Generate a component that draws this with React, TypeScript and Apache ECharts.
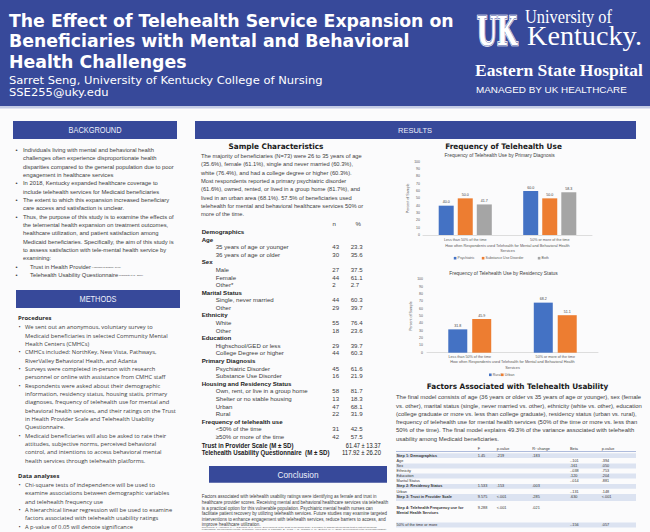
import React, { useEffect, useRef } from 'react';
import * as echarts from 'echarts';

// ---------------- data ----------------
const frequencyCategories = ['Less than 50% of the time', '50% or more of the time'];
const diagnosisSeries = ['Psychiatric', 'Substance Use Disorder', 'Both'];
const psychiatricPct = [40.0, 60.0];
const substanceUsePct = [50.0, 50.0];
const bothPct = [41.7, 58.3];
const residencySeries = ['Rural', 'Urban'];
const ruralPct = [31.8, 68.2];
const urbanPct = [45.9, 51.1];
const percentMin = 0;
const percentMax = 100;
const percentStep = 10;

const sampleLabels = [
  'Demographics', 'Age', '35 years of age or younger', '36 years of age or older',
  'Sex', 'Male', 'Female', 'Other*',
  'Marital Status', 'Single, never married', 'Other',
  'Ethnicity', 'White', 'Other',
  'Education', 'Highschool/GED or less', 'College Degree or higher',
  'Primary Diagnosis', 'Psychiatric Disorder', 'Substance Use Disorder',
  'Housing and Residency Status', 'Own, rent, or live in a group home', 'Shelter or no stable housing', 'Urban', 'Rural',
  'Frequency of telehealth use', '<50% of the time', '\u226550% or more of the time',
];
const sampleN = [null, null, 43, 30, null, 27, 44, 2, null, 44, 29, null, 55, 18, null, 29, 44, null, 45, 16, null, 58, 13, 47, 22, null, 31, 42];
const samplePct = [null, null, 23.3, 35.6, null, 37.5, 61.1, 2.7, null, 60.3, 39.7, null, 76.4, 23.6, null, 39.7, 60.3, null, 61.6, 21.9, null, 81.7, 18.3, 68.1, 31.9, null, 42.5, 57.5];
const scaleLabels = ['Trust in Provider Scale (M \u00b1 SD)', 'Telehealth Usability Questionnaire  (M \u00b1 SD)'];
const scaleMeans = [61.47, 117.92];
const scaleSDs = [13.37, 26.2];

const factorHeaders = ['F', 'p-value', 'R\u00b2 change', 'Beta', 'p-value'];
const factorLabels = [
  'Step 1: Demographics', 'Age', 'Sex', 'Ethnicity', 'Education', 'Marital Status',
  'Step 2: Residency Status', 'Urban', 'Step 3: Trust in Provider Scale',
  'Step 4: Telehealth Frequency use for\nMental Health Services', '50% of the time or more',
];
const factorF = ['1.45', '', '', '', '', '', '1.533', '', '9.575', '9.288', ''];
const factorP = ['.219', '', '', '', '', '', '.153', '', '<.001', '<.001', ''];
const factorR2 = ['.183', '', '', '', '', '', '.003', '', '.285', '.021', ''];
const factorBeta = ['', '-.101', '.161', '-.038', '.120', '-.014', '', '-.131', '.630', '', '-.156'];
const factorBetaP = ['', '.394', '.050', '.753', '.204', '.881', '', '.148', '<.001', '', '.057'];

const titleLines = [
  'The Effect of Telehealth Service Expansion on',
  'Beneficiaries with Mental and Behavioral',
  'Health Challenges',
];
const backgroundLines = [
  '\u2022 Individuals living with mental and behavioral health',
  'challenges often experience disproportionate health',
  'disparities compared to the general population due to poor',
  'engagement in healthcare services',
  '\u2022 In 2018, Kentucky expanded healthcare coverage to',
  'include telehealth services for Medicaid beneficiaries',
  '\u2022 The extent to which this expansion increased beneficiary',
  'care access and satisfaction is unclear.',
  '\u2022 Thus, the purpose of this study is to examine the effects of',
  'the telemental health expansion on treatment outcomes,',
  'healthcare utilization, and patient satisfaction among',
  'Medicaid beneficiaries. Specifically, the aim of this study is',
  'to assess satisfaction with tele-mental health service by',
  'examining:',
  '\u25e6 Trust in Health Provider',
  '\u25e6 Telehealth Usability Questionnaire',
];
const backgroundCitations = ['(Anderson & Dedrick, 1990)', '(Parmanto et al., 2016)'];
const procedureLines = [
  '\u2022 We sent out an anonymous, voluntary survey to',
  'Medicaid beneficiaries in selected Community Mental',
  'Health Centers (CMHCs)',
  '\u2022 CMHCs included: NorthKey, New Vista, Pathways,',
  'RiverValley Behavioral Health, and Adanta',
  '\u2022 Surveys were completed in-person with research',
  'personnel or online with assistance from CMHC staff',
  '\u2022 Respondents were asked about their demographic',
  'information, residency status, housing statis, primary',
  'diagnoses, frequency of telehealth use for mental and',
  'behavioral health services, and their ratings on the Trust',
  'in Health Provider Scale and Telehealth Usability',
  'Questionnaire.',
  '\u2022 Medicaid beneficiaries will also be asked to rate their',
  'attitudes, subjective norms, perceived behavioral',
  'control, and intentions to access behavioral mental',
  'health services through telehealth platforms.',
];
const analysisLines = [
  '\u2022 Chi-square tests of independence will be used to',
  'examine associations between demographic variables',
  'and telehealth frequency use',
  '\u2022 A hierarchical linear regression will be used to examine',
  'factors associated with telehealth usability ratings',
  '\u2022 A p-value of 0.05 will denote significance',
];
const sampleParagraph = [
  'The majority of beneficiaries (N=73) were 26 to 35 years of age',
  '(35.6%), female (61.1%), single and never married (60.3%),',
  'white (76.4%), and had a college degree or higher (60.3%).',
  'Most respondents reported a primary psychiatric disorder',
  '(61.6%), owned, rented, or lived in a group home (81.7%), and',
  'lived in an urban area (68.1%). 57.5% of beneficiaries used',
  'telehealth for mental and behavioral healthcare services 50% or',
  'more of the time.',
];
const factorParagraph = [
  'The final model consists of age (36 years or older vs 35 years of age or younger), sex (female',
  'vs. other), marital status (single, never married vs. other), ethnicity (white vs. other), education',
  '(college graduate or more vs. less than college graduate), residency status (urban vs. rural),',
  'frequency of telehealth use for mental health services (50% of the time or more vs. less than',
  '50% of the time). The final model explains 49.3% of the variance associated with telehealth',
  'usability among Medicaid beneficiaries.',
];
const conclusionLines = [
  'Factors associated with telehealth usability ratings were identifying as female and trust in',
  'healthcare provider scores. Receiving mental and behavioral healthcare services via telehealth',
  'is a practical option for this vulnerable population. Psychiatric mental health nurses can',
  'facilitate patient recovery by utilizing telehealth services. Future studies may examine targeted',
  'interventions to enhance engagement with telehealth services, reduce barriers to access, and',
  'improve healthcare utilization.',
];
const referenceLines = [
  'References: 1. Anderson, L. A., & Dedrick, R. F. (1990). Development of the Trust in Physician scale: a measure to assess interpersonal trust in patient-physician',
  'relationships. Psychological reports, 67(3 suppl), 1091-1100. 2. Parmanto, B., Lewis, A. N., Graham, K. M., Bertolet, M. H. (2016). Development of the Telehealth Usability',
  'Questionnaire (TUQ). Int J Telerehabil, 8(1), 3-10. doi: 10.5195/IJT.2016.6196.',
];

// ---------------- styling helpers ----------------
const BLUE = '#37499a';
const BODY = '#3c3c3c';
const SANS = 'Liberation Sans';
const OPEN = 'Open Sans';
const DJ = 'DejaVu Sans';
const SERIF = 'Liberation Serif';
const AXIS = '#595959';

let measureCtx: CanvasRenderingContext2D | null = null;
function textW(s: string, size: number, family: string, weight = 'normal') {
  if (!measureCtx) measureCtx = document.createElement('canvas').getContext('2d');
  if (!measureCtx) return s.length * size * 0.5;
  measureCtx.font = `${weight} 100px "${family}"`;
  return (measureCtx.measureText(s).width * size) / 100;
}
function fit(ref: string, width: number, size: number, family: string, weight = 'normal') {
  return width / textW(ref, size, family, weight);
}
function T(text: string, x: number, y: number, size: number, o: any = {}) {
  return {
    type: 'text', x, y, scaleX: o.sx ?? 1, silent: true, z: 10,
    style: {
      text, fontSize: size, fontFamily: o.family ?? SANS, fontWeight: o.weight ?? 'normal',
      fill: o.color ?? BODY, align: o.align ?? 'left', verticalAlign: 'middle',
      stroke: o.stroke, lineWidth: o.lineWidth ?? 0,
    },
  };
}
function R(x: number, y: number, w: number, h: number, fill: string) {
  return { type: 'rect', silent: true, z: 1, shape: { x, y, width: w, height: h }, style: { fill } };
}
function bulletBlock(els: any[], lines: string[], o: any) {
  lines.forEach((ln, k) => {
    const y = o.y0 + k * o.dy;
    if (ln.startsWith('\u2022 ')) {
      els.push(T('\u2022', o.bx, y, o.size, { family: o.family, sx: o.sx }));
      els.push(T(ln.slice(2), o.tx, y, o.size, { family: o.family, sx: o.sx }));
    } else if (ln.startsWith('\u25e6 ')) {
      els.push(T('\u2022', o.bx, y, o.size, { family: o.family, sx: o.sx }));
      els.push(T(ln.slice(2), o.subTx, y, o.size, { family: o.family, sx: o.sx }));
    } else {
      els.push(T(ln, o.tx, y, o.size, { family: o.family, sx: o.sx }));
    }
  });
}

function buildGraphics() {
  const els: any[] = [];
  // header
  els.push(R(0, 0, 650, 106, BLUE));
  els.push(R(0, 106, 650, 2.5, '#c3cbe5'));
  const tSize = 18.5;
  const tSx = fit(titleLines[0], 445, tSize, DJ, 'bold');
  titleLines.forEach((l, i) => els.push(T(l, 9, 20.4 + i * 20.3, tSize, { family: DJ, weight: 'bold', color: '#ffffff', sx: tSx })));
  const aSx = fit('Sarret Seng, University of Kentucky College of Nursing', 314, 10, DJ);
  els.push(T('Sarret Seng, University of Kentucky College of Nursing', 9, 80.8, 10, { family: DJ, color: '#ffffff', sx: aSx }));
  els.push(T('SSE255@uky.edu', 9, 92.8, 10, { family: DJ, color: '#ffffff', sx: aSx }));
  // logo
  const ukSx = fit('UK', 40, 40, 'DejaVu Serif', 'bold');
  els.push(T('UK', 477, 31, 40, { family: 'DejaVu Serif', weight: 'bold', color: '#ffffff', stroke: '#ffffff', lineWidth: 2.6, sx: ukSx }));
  els.push(T('UK', 477, 31, 40, { family: 'DejaVu Serif', weight: 'bold', color: '#ffffff', stroke: BLUE, lineWidth: 0.9, sx: ukSx }));
  els.push(T('University of', 525, 17.6, 18, { family: SERIF, color: '#ffffff', sx: fit('University of', 87, 18, SERIF) }));
  els.push(T('Kentucky.', 527, 36, 28, { family: SERIF, color: '#ffffff', sx: fit('Kentucky.', 115, 28, SERIF) }));
  els.push(T('Eastern State Hospital', 475, 70.5, 16, { family: SERIF, weight: 'bold', color: '#ffffff', sx: fit('Eastern State Hospital', 168, 16, SERIF, 'bold') }));
  els.push(T('MANAGED BY UK HEALTHCARE', 476, 90.2, 8.8, { color: '#ffffff', sx: fit('MANAGED BY UK HEALTHCARE', 151, 8.8, SANS) }));

  // section header boxes
  const hdr = (label: string, x: number, y: number, w: number, h: number, cx: number, tw: number, size: number) => {
    els.push(R(x, y, w, h, BLUE));
    els.push(T(label, cx, y + h / 2 + 0.3, size, { color: '#eef0fb', align: 'center', sx: fit(label, tw, size, SANS) }));
  };
  hdr('BACKGROUND', 13, 121, 164, 18, 95, 53, 8.2);
  hdr('METHODS', 16, 290, 164, 18, 98, 37, 8.2);
  hdr('RESULTS', 195, 121, 441, 18, 415, 34, 7.8);
  hdr('Conclusion', 209, 466, 178, 16.7, 298, 41, 9.4);

  // background
  const bgSize = 5.9;
  const bgSx = fit(backgroundLines[2], 151, bgSize, SANS);
  bulletBlock(els, backgroundLines, { y0: 150, dy: 8.33, bx: 15.5, tx: 23, subTx: 30, size: bgSize, family: SANS, sx: bgSx });
  [14, 15].forEach((li, j) => {
    const txt = backgroundLines[li].slice(2);
    const x = 30 + textW(txt, bgSize, SANS) * bgSx + 0.5;
    els.push(T(backgroundCitations[j], x, 150 + li * 8.33 + 0.8, 2.4, { sx: bgSx }));
  });

  // methods
  const mSize = 5.7;
  const mSx = fit(procedureLines[10], 151, mSize, OPEN);
  els.push(T('Procedures', 18, 318.3, 5.9, { family: OPEN, weight: 'bold', color: '#2a2a2a', sx: mSx }));
  bulletBlock(els, procedureLines, { y0: 327.3, dy: 8.33, bx: 18.5, tx: 25, size: mSize, family: OPEN, sx: mSx });
  els.push(T('Data analyses', 18, 475.7, 5.9, { family: OPEN, weight: 'bold', color: '#2a2a2a', sx: mSx }));
  bulletBlock(els, analysisLines, { y0: 485, dy: 8.33, bx: 18.5, tx: 25, size: mSize, family: OPEN, sx: mSx });

  // sample characteristics
  const hSize = 7.6;
  els.push(T('Sample Characteristics', 276, 146.7, hSize, { family: DJ, weight: 'bold', color: '#1a1a1a', align: 'center', sx: fit('Sample Characteristics', 95, hSize, DJ, 'bold') }));
  const pSize = 5.7;
  const pSx = fit(sampleParagraph[0], 161, pSize, SANS);
  sampleParagraph.forEach((l, k) => els.push(T(l, 201, 156 + k * 8.33, pSize, { sx: pSx })));
  const rSize = 5.9;
  const itemSx = fit('Own, rent, or live in a group home', 92, rSize, SANS);
  const headSx = fit('Housing and Residency Status', 90, rSize, SANS, 'bold');
  els.push(T('n', 334.3, 224.3, rSize, { align: 'center', sx: itemSx }));
  els.push(T('%', 358.3, 224.3, rSize, { align: 'center', sx: itemSx }));
  sampleLabels.forEach((lab, i) => {
    const y = 232 + i * 7.59;
    const n = sampleN[i];
    if (n === null) {
      els.push(T(lab, 201.7, y, rSize, { weight: 'bold', color: '#222', sx: headSx }));
    } else {
      els.push(T(lab, 215.7, y, rSize, { sx: itemSx }));
      els.push(T(String(n), 332.3, y, rSize, { sx: itemSx }));
      els.push(T((samplePct[i] as number).toFixed(1), 350.7, y, rSize, { sx: itemSx }));
    }
  });
  const sSize = 6.5;
  const sWidths = [92, 128];
  const vX = [345.7, 342];
  const vW = [35, 39];
  scaleLabels.forEach((lab, i) => {
    const y = 445 + i * 7.4;
    els.push(T(lab, 201.7, y, sSize, { weight: 'bold', color: '#1a1a1a', sx: fit(lab, sWidths[i], sSize, SANS, 'bold') }));
    const v = `${scaleMeans[i].toFixed(2)} \u00b1 ${scaleSDs[i].toFixed(2)}`;
    els.push(T(v, vX[i], y, sSize, { color: '#222', sx: fit(v, vW[i], sSize, SANS) }));
  });

  // conclusion
  const cSize = 4.5;
  const cSx = fit(conclusionLines[1], 187, cSize, SANS);
  conclusionLines.forEach((l, k) => els.push(T(l, 201.7, 496.7 + k * 5.65, cSize, { sx: cSx })));
  const refSx = fit(referenceLines[1], 186, 2.2, SANS);
  referenceLines.forEach((l, k) => els.push(T(l, 201.7, 527.4 + k * 2.1, 2.2, { sx: refSx, color: '#555' })));

  // results: chart titles
  els.push(T('Frequency of Telehealth Use', 503.5, 146.7, hSize, { family: DJ, weight: 'bold', color: '#1a1a1a', align: 'center', sx: fit('Frequency of Telehealth Use', 117, hSize, DJ, 'bold') }));
  const stSize = 4.7;
  els.push(T('Frequency of Telehealth Use by Primary Diagnosis', 499.7, 156, stSize, { color: '#404040', align: 'center', sx: fit('Frequency of Telehealth Use by Primary Diagnosis', 110.7, stSize, SANS) }));
  els.push(T('Frequency of Telehealth Use by Residency Status', 503.5, 273.3, stSize, { color: '#404040', align: 'center', sx: fit('Frequency of Telehealth Use by Residency Status', 109, stSize, SANS) }));

  // factors
  els.push(T('Factors Associated with Telehealth Usability', 517.5, 386.5, hSize, { family: DJ, weight: 'bold', color: '#1a1a1a', align: 'center', sx: fit('Factors Associated with Telehealth Usability', 181.6, hSize, DJ, 'bold') }));
  const fSize = 5.6;
  const fSx = fit(factorParagraph[0], 246, fSize, SANS);
  factorParagraph.forEach((l, k) => els.push(T(l, 396, 397.3 + k * 8.3, fSize, { sx: fSx })));

  // factors table
  const tbSize = 3.7;
  const tbSx = fit('Step 3: Trust in Provider Scale', 52, tbSize, SANS);
  const colX = [477.7, 496.7, 532.3, 570, 601.7];
  const rowY = [455.7, 461, 466, 471, 476, 481, 486.3, 491.7, 497.5, 508.3, 525];
  const shade = [[453.3, 4.8], [463.6, 4.8], [473.6, 4.8], [483.9, 4.8], [494, 7], [522.6, 4.8]];
  shade.forEach(([y, h]) => els.push(R(396, y, 240, h, '#dce3f1')));
  els.push(R(396, 451, 240, 0.9, '#aebbdc'));
  factorHeaders.forEach((h, c) => els.push(T(h, colX[c], 449, tbSize, { sx: tbSx, color: '#333' })));
  factorLabels.forEach((lab, i) => {
    const y = rowY[i];
    const isStep = lab.startsWith('Step');
    lab.split('\n').forEach((part, k) => els.push(T(part, 396.5, y + k * 5, tbSize, { sx: tbSx, color: '#333', weight: isStep ? 'bold' : 'normal' })));
    const vals = [factorF[i], factorP[i], factorR2[i], factorBeta[i], factorBetaP[i]];
    vals.forEach((v, c) => { if (v) els.push(T(v, colX[c], y, tbSize, { sx: tbSx, color: '#333' })); });
  });
  return els;
}

function buildOption() {
  const axisName = 'How often Respondents used Telehealth for Mental and Behavioral Health\nServices';
  const grids = [
    { left: 423, top: 161.7, width: 169, height: 73.3 },
    { left: 427, top: 279.3, width: 171, height: 73.4 },
  ];
  const xAxis = [0, 1].map((i) => ({
    type: 'category', gridIndex: i, data: frequencyCategories,
    axisLine: { lineStyle: { color: '#d0d0d0', width: 0.7 } },
    axisTick: { show: false },
    axisLabel: { fontSize: 3.7, color: AXIS, margin: i ? 2.2 : 3, fontFamily: SANS },
    name: axisName, nameLocation: 'middle', nameGap: i ? 7 : 7.5,
    nameTextStyle: { fontSize: 3.8, lineHeight: 5.3, color: AXIS, fontFamily: SANS },
  }));
  const yAxis = [0, 1].map((i) => ({
    type: 'value', gridIndex: i, min: percentMin, max: percentMax, interval: percentStep,
    splitLine: { show: false }, axisLine: { show: false }, axisTick: { show: false },
    axisLabel: { fontSize: 3.5, color: AXIS, margin: i ? 4 : 3, fontFamily: SANS },
    name: 'Percent of Sample', nameLocation: 'middle', nameRotate: 90, nameGap: i ? 12 : 11,
    nameTextStyle: { fontSize: 3.6, color: AXIS, fontFamily: SANS },
  }));
  const label = {
    show: true, position: 'top', distance: 1.5, fontSize: 3.6, color: '#404040', fontFamily: SANS,
    formatter: (p: any) => Number(p.value).toFixed(1),
  };
  const colors = ['#4472c4', '#ed7d31', '#a5a5a5'];
  const diagData = [psychiatricPct, substanceUsePct, bothPct];
  const resData = [ruralPct, urbanPct];
  const series: any[] = [];
  diagnosisSeries.forEach((name, k) => series.push({
    name, type: 'bar', xAxisIndex: 0, yAxisIndex: 0, data: diagData[k], barWidth: 15, barGap: '27%',
    itemStyle: { color: colors[k] }, label,
  }));
  residencySeries.forEach((name, k) => series.push({
    name, type: 'bar', xAxisIndex: 1, yAxisIndex: 1, data: resData[k], barWidth: 19, barGap: '26%',
    itemStyle: { color: colors[k] }, label,
  }));
  const legendPos: [string, number, number][] = [
    ['Psychiatric', 453.8, 256.2],
    ['Substance Use Disorder', 481.8, 256.2],
    ['Both', 537.8, 256.2],
    ['Rural', 489, 372.8],
    ['Urban', 501, 372.8],
  ];
  const legend = legendPos.map(([n, l, t]) => ({
    data: [n], left: l, top: t, padding: 0, itemGap: 0, itemWidth: 2.6, itemHeight: 2.6, icon: 'rect',
    selectedMode: false, textStyle: { fontSize: 3.5, color: AXIS, fontFamily: SANS, padding: [0, 0, 0, -3.8] },
  }));
  return {
    animation: false,
    backgroundColor: '#fbfbfc',
    grid: grids, xAxis, yAxis, series, legend,
    graphic: { elements: buildGraphics() },
  };
}

export default function App() {
  const ref = useRef<HTMLDivElement>(null);
  useEffect(() => {
    if (!ref.current) return;
    const chart = echarts.init(ref.current, undefined, { renderer: 'svg' });
    chart.setOption(buildOption() as any);
    return () => chart.dispose();
  }, []);
  return <div ref={ref} style={{ position: 'fixed', left: 0, top: 0, width: 650, height: 532 }} />;
}
